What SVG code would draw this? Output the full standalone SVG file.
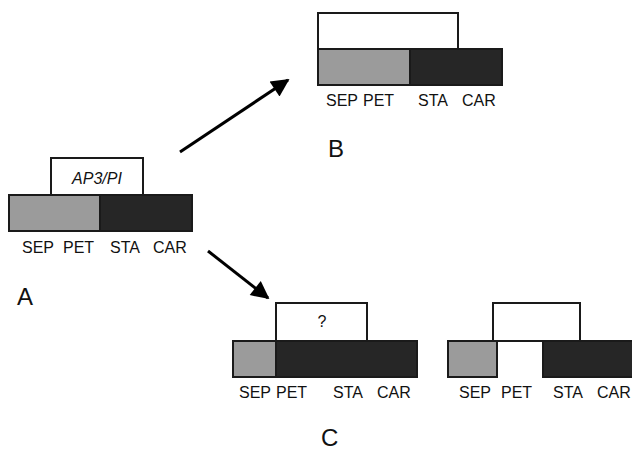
<svg xmlns="http://www.w3.org/2000/svg" width="632" height="451" viewBox="0 0 632 451">
<defs>
<style>
.b{stroke:#1a1a1a;stroke-width:2}
.w{fill:#fff}
.g{fill:#9b9b9b}
.d{fill:#262626}
.t{font-family:"Liberation Sans",Arial,sans-serif;font-size:16px;fill:#111}
.L{font-family:"Liberation Sans",Arial,sans-serif;font-size:24px;fill:#111}
.c{stroke:#000;stroke-width:3;fill:none}
</style>
<marker id="ah" viewBox="0 0 10 10" refX="9" refY="5" markerWidth="7" markerHeight="6" markerUnits="strokeWidth" orient="auto">
<path d="M0,0 L10,5 L0,10 Z" fill="#000"/>
</marker>
</defs>
<g id="nodeA">
<rect class="b w" x="51" y="158" width="92" height="37"/>
<text class="t" x="97" y="184" text-anchor="middle" font-style="italic" font-size="17">AP3/PI</text>
<rect class="b g" x="9" y="195" width="91" height="36"/>
<rect class="b d" x="100" y="195" width="92" height="36"/>
<text class="t" x="22" y="253">SEP</text>
<text class="t" x="63" y="253">PET</text>
<text class="t" x="110" y="253">STA</text>
<text class="t" x="153" y="253">CAR</text>
<text class="L" x="17" y="305">A</text>
</g>
<g id="nodeB">
<rect class="b w" x="318" y="13" width="140" height="36"/>
<rect class="b g" x="318" y="49" width="92" height="36"/>
<rect class="b d" x="410" y="49" width="92" height="36"/>
<text class="t" x="326" y="106">SEP</text>
<text class="t" x="363" y="106">PET</text>
<text class="t" x="418" y="106">STA</text>
<text class="t" x="462" y="106">CAR</text>
<text class="L" x="328" y="157">B</text>
</g>
<g id="nodeC1">
<rect class="b w" x="276" y="303" width="91" height="38"/>
<text class="t" x="322" y="327" text-anchor="middle" font-size="15">?</text>
<rect class="b g" x="233" y="341" width="43" height="36"/>
<rect class="b d" x="276" y="341" width="141" height="36"/>
<text class="t" x="239" y="398">SEP</text>
<text class="t" x="276" y="398">PET</text>
<text class="t" x="333" y="398">STA</text>
<text class="t" x="377" y="398">CAR</text>
</g>
<g id="nodeC2">
<rect class="b w" x="493" y="303" width="87" height="38"/>
<rect class="b g" x="448" y="341" width="49" height="36"/>
<rect class="b d" x="543" y="341" width="95" height="36"/>
<text class="t" x="459" y="398">SEP</text>
<text class="t" x="501" y="398">PET</text>
<text class="t" x="553" y="398">STA</text>
<text class="t" x="597" y="398">CAR</text>
</g>
<text class="L" x="321" y="446">C</text>
<g id="connectors">
<line class="c" x1="180" y1="152" x2="288" y2="80" marker-end="url(#ah)"/>
<line class="c" x1="208" y1="251" x2="268" y2="298" marker-end="url(#ah)"/>
</g>
</svg>
